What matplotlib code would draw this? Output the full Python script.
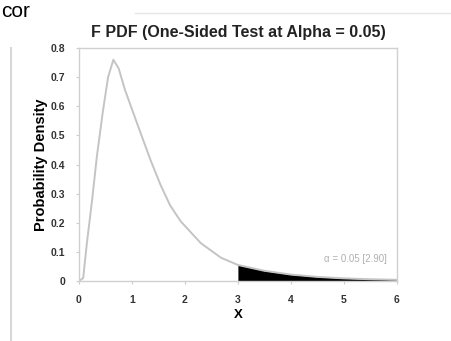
import matplotlib.pyplot as plt

plt.rcParams["font.family"] = ["Liberation Sans", "DejaVu Sans"]

# F pdf
x_vals = [0.0, 0.08, 0.15, 0.25, 0.34, 0.45, 0.55, 0.65, 0.75, 0.87, 1.10, 1.35, 1.54,
          1.72, 1.92, 2.30, 2.68, 3.0, 3.5, 4.0, 4.5, 5.0, 5.5, 6.0]
y_vals = [0.0, 0.01, 0.13, 0.28, 0.43, 0.58, 0.70, 0.76, 0.73, 0.656, 0.54, 0.416, 0.33,
          0.26, 0.205, 0.13, 0.08, 0.055, 0.035, 0.022, 0.014, 0.009, 0.006, 0.004]
x_crit = 3.0
x_ticks = [0, 1, 2, 3, 4, 5, 6]
y_ticks = [0, 0.1, 0.2, 0.3, 0.4, 0.5, 0.6, 0.7, 0.8]
y_ticklabels = ["0", "0.1", "0.2", "0.3", "0.4", "0.5", "0.6", "0.7", "0.8"]

fig = plt.figure(figsize=(4.51, 3.41), dpi=100)

# slide leftovers around the chart
fig.text(0.002, 0.995, "cor", fontsize=15, color="black", ha="left", va="top")
fig.add_artist(plt.Line2D([0.024, 0.024], [0.0, 0.86], color="#d8d8d8", linewidth=1.5))
fig.add_artist(plt.Line2D([0.3, 1.0], [0.962, 0.962], color="#e6e6e6", linewidth=1))

ax = fig.add_axes([0.175, 0.176, 0.705, 0.683])
ax.plot(x_vals, y_vals, color="#c4c4c4", linewidth=1.4)

tail_x = [x for x in x_vals if x >= x_crit]
tail_y = [y for x, y in zip(x_vals, y_vals) if x >= x_crit]
ax.fill_between(tail_x, tail_y, 0, color="black", linewidth=0)

ax.text(5.82, 0.075, "α = 0.05 [2.90]", fontsize=7, color="#b0b0b0",
        ha="right", va="center")

ax.set_xlim(0, 6)
ax.set_ylim(0, 0.8)
ax.set_xticks(x_ticks)
ax.set_yticks(y_ticks)
ax.set_yticklabels(y_ticklabels)
for lab in ax.get_xticklabels() + ax.get_yticklabels():
    lab.set_fontweight("bold")
    lab.set_fontsize(7.5)
    lab.set_color("#333333")
ax.tick_params(length=2, color="#cccccc", pad=8)
for sp in ax.spines.values():
    sp.set_color("#d0d0d0")
    sp.set_linewidth(1)

ax.set_title("F PDF (One-Sided Test at Alpha = 0.05)", fontsize=11.5,
             fontweight="bold", color="#222222", pad=8)
ax.set_xlabel("X", fontsize=9.5, fontweight="bold", labelpad=3)
ax.set_ylabel("Probability Density", fontsize=10.5, fontweight="bold", labelpad=2)

plt.savefig("out.png", dpi=100)
